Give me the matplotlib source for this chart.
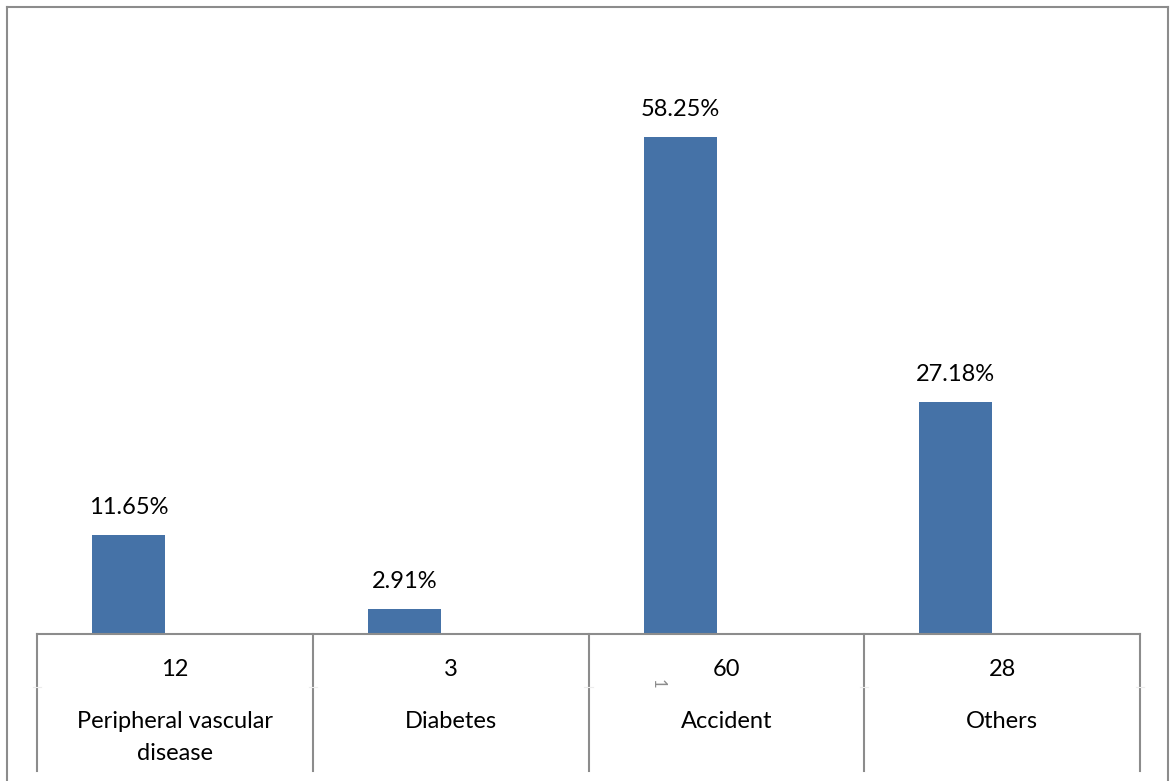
import matplotlib
matplotlib.use("Agg")
import matplotlib.pyplot as plt
from matplotlib.lines import Line2D

# data
categories = ["Peripheral vascular\ndisease", "Diabetes", "Accident", "Others"]
counts = [12, 3, 60, 28]
percents = [11.65, 2.91, 58.25, 27.18]

plt.rcParams['font.family'] = ['Lato', 'DejaVu Sans']

W, H = 1170, 781
fig = plt.figure(figsize=(W / 100, H / 100), dpi=100)
fig.patch.set_facecolor('white')

# plot area in pixels
x0, x1, ytop, ybase = 37, 1140, 37, 634
ax = fig.add_axes([x0 / W, 1 - ybase / H, (x1 - x0) / W, (ybase - ytop) / H])

xs = list(range(len(categories)))
shift = -0.168  # bars sit left of the category centre
bx = [x + shift for x in xs]
ax.bar(bx, percents, width=0.265, color='#4572A7', zorder=2)
for x, p in zip(bx, percents):
    ax.text(x, p + 2.0, f"{p:.2f}%", ha='center', va='bottom', fontsize=17)

ax.set_xlim(-0.5, len(categories) - 0.5)
ax.set_ylim(0, 70)
for s in ['left', 'right', 'top']:
    ax.spines[s].set_visible(False)
ax.spines['bottom'].set_color('#8c8c8c')
ax.spines['bottom'].set_linewidth(1.5)
ax.set_xticks([])
ax.set_yticks([])

# table under the axis
grey = '#8c8c8c'
tr = ax.get_xaxis_transform()
px = 1.0 / (ybase - ytop)  # one pixel in axes fraction
for b in [i - 0.5 for i in range(len(categories) + 1)]:
    ax.plot([b, b], [0, -137 * px], color=grey, lw=1.5, transform=tr, clip_on=False)
    ax.plot([b - 0.015, b + 0.015], [-53 * px, -53 * px], color='#ececec', lw=0.8,
            transform=tr, clip_on=False)
for x, c, name in zip(xs, counts, categories):
    ax.text(x, -36 * px, str(c), ha='center', va='center', fontsize=17, transform=tr)
    for k, line in enumerate(name.split("\n")):
        ax.text(x, -(88 + 32 * k) * px, line, ha='center', va='center',
                fontsize=17, transform=tr)
ax.text(1.75, -50 * px, "1", ha='center', va='center', fontsize=12, color=grey,
        rotation=270, transform=tr)

# outer frame
def fl(xa, ya, xb, yb):
    fig.add_artist(Line2D([xa / W, xb / W], [1 - ya / H, 1 - yb / H],
                          color=grey, lw=1.5, transform=fig.transFigure))

fl(7, 7, 1168, 7)
fl(7, 7, 7, 781)
fl(1168, 7, 1168, 781)

fig.savefig("out.png", dpi=100, facecolor='white')
